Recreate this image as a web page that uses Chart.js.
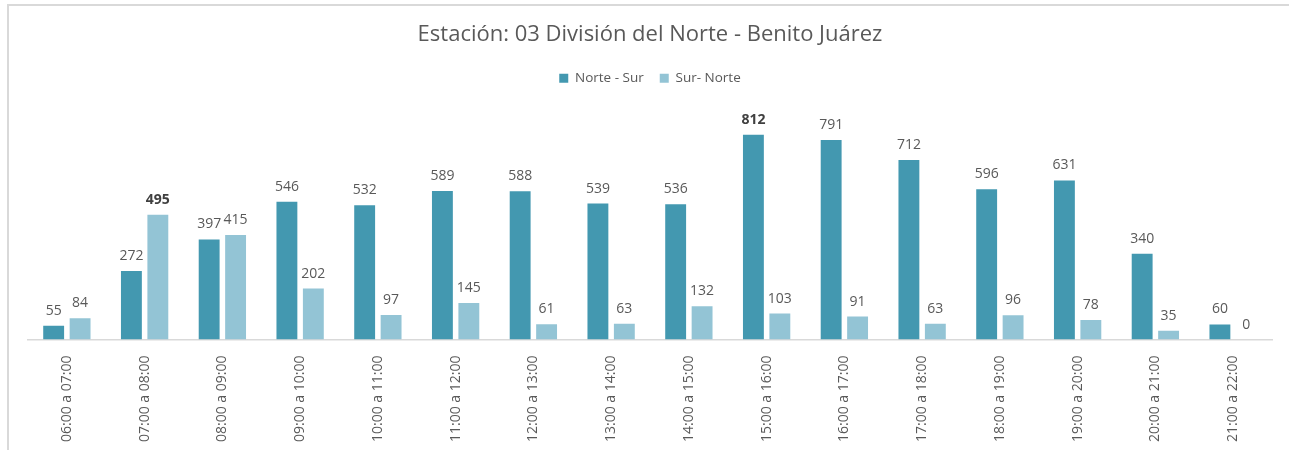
<!DOCTYPE html>
<html>
<head>
    <title>Estación: 03 División del Norte - Benito Juárez</title>
    <script src="https://cdn.jsdelivr.net/npm/chart.js"></script>
    <style>
        body {
            margin: 0;
            background: #ffffff;
        }

        #wrap {
            position: relative;
            width: 1289px;
            height: 450px;
        }

        #frame {
            position: absolute;
            left: 7px;
            top: 4px;
            right: 0;
            bottom: 0;
            border-top: 2px solid #d9d9d9;
            border-left: 2px solid #d9d9d9;
            pointer-events: none;
        }

        canvas {
            position: absolute;
            left: 0;
            top: 0;
        }
    </style>
</head>
<body>
<div id="wrap">
    <canvas id="chart" width="1289" height="450"></canvas>
    <div id="frame"></div>
</div>

<script>
    // Data
    var horarios = ['06:00 a 07:00', '07:00 a 08:00', '08:00 a 09:00', '09:00 a 10:00',
        '10:00 a 11:00', '11:00 a 12:00', '12:00 a 13:00', '13:00 a 14:00',
        '14:00 a 15:00', '15:00 a 16:00', '16:00 a 17:00', '17:00 a 18:00',
        '18:00 a 19:00', '19:00 a 20:00', '20:00 a 21:00', '21:00 a 22:00'];
    var norteSur = [55, 272, 397, 546, 532, 589, 588, 539, 536, 812, 791, 712, 596, 631, 340, 60];
    var surNorte = [84, 495, 415, 202, 97, 145, 61, 63, 132, 103, 91, 63, 96, 78, 35, 0];

    var fontName = "'Open Sans', sans-serif";

    // Draw the value above each bar, max of each series in bold
    var valueLabels = {
        id: 'valueLabels',
        afterDatasetsDraw: function (chart) {
            var ctx = chart.ctx;
            ctx.save();
            ctx.textAlign = 'center';
            ctx.textBaseline = 'bottom';
            chart.data.datasets.forEach(function (ds, i) {
                var meta = chart.getDatasetMeta(i);
                var max = Math.max.apply(null, ds.data);
                meta.data.forEach(function (bar, j) {
                    var v = ds.data[j];
                    ctx.font = (v === max ? 'bold ' : '') + '14px ' + fontName;
                    ctx.fillStyle = v === max ? '#404040' : '#595959';
                    ctx.fillText(v, bar.x, bar.y - 8);
                });
            });
            ctx.restore();
        }
    };

    var ctx = document.getElementById('chart').getContext('2d');
    var chart = new Chart(ctx, {
        type: 'bar',
        data: {
            labels: horarios,
            datasets: [{
                label: 'Norte - Sur',
                data: norteSur,
                backgroundColor: '#4398b0'
            }, {
                label: 'Sur- Norte',
                data: surNorte,
                backgroundColor: '#93c4d5'
            }]
        },
        options: {
            responsive: false,
            animation: false,
            categoryPercentage: 0.68,
            barPercentage: 0.79,
            layout: {
                padding: {left: 28, right: 17, top: 0, bottom: 0}
            },
            plugins: {
                title: {
                    display: true,
                    text: 'Estación: 03 División del Norte - Benito Juárez',
                    color: '#595959',
                    font: {family: fontName, size: 22, weight: 'normal'},
                    padding: {top: 22, bottom: 7}
                },
                legend: {
                    display: true,
                    labels: {
                        boxWidth: 9,
                        boxHeight: 9,
                        color: '#595959',
                        font: {family: fontName, size: 13.5},
                        padding: 16
                    }
                },
                tooltip: {enabled: false}
            },
            scales: {
                x: {
                    grid: {display: false},
                    border: {display: true, color: '#d9d9d9', width: 1.5},
                    ticks: {
                        minRotation: 90,
                        maxRotation: 90,
                        padding: 8,
                        color: '#595959',
                        font: {family: fontName, size: 14}
                    }
                },
                y: {
                    display: false,
                    min: 0,
                    max: 970
                }
            }
        },
        plugins: [valueLabels]
    });
</script>
</body>
</html>
